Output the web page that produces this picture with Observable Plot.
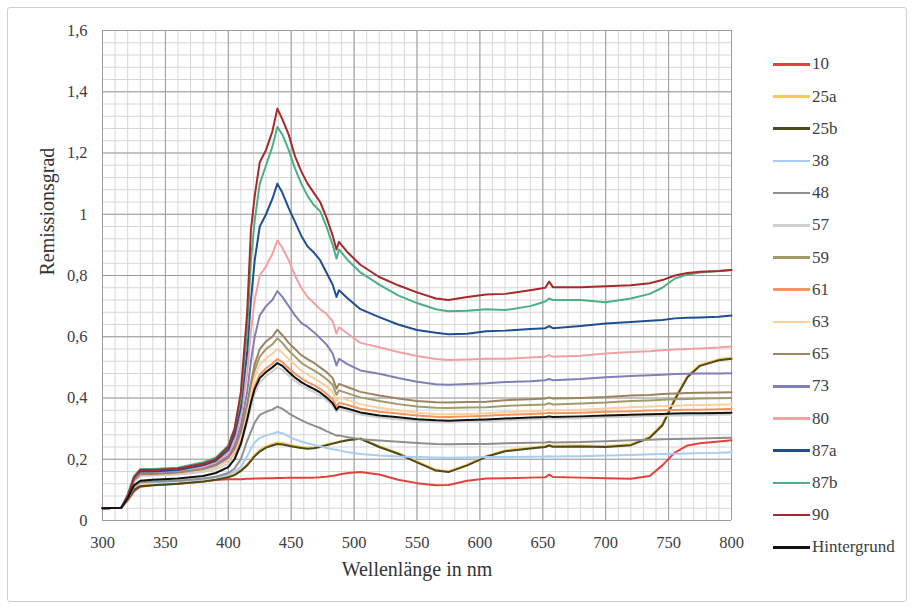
<!DOCTYPE html>
<html><head><meta charset="utf-8">
<script src="https://cdn.jsdelivr.net/npm/d3@7"></script>
<script src="https://cdn.jsdelivr.net/npm/@observablehq/plot@0.6"></script>
<style>
html,body{margin:0;padding:0;background:#fff;}
#wrap{position:relative;width:914px;height:608px;overflow:hidden;background:#fff;}
#frame{position:absolute;left:7px;top:7px;width:900px;height:595px;border:1px solid #cfcfcf;border-radius:3px;box-sizing:border-box;}
#chart{position:absolute;left:0;top:0;}
#legend{position:absolute;left:0;top:0;font-family:"Liberation Serif","Times New Roman",serif;font-size:17px;color:#404040;}
.item{position:absolute;left:773px;height:20px;display:flex;align-items:center;white-space:nowrap;}
.swatch{width:37px;height:2.5px;}
.lab{margin-left:2px;}
</style>
</head><body>
<div id="wrap"><div id="frame"></div><div id="chart"></div><div id="legend"></div></div>
<script>
const wavelengths = [300,315,320,325,330,340,360,380,390,400,405,410,415,418,421,425,430,435,439,443,448,453,458,463,468,473,478,483,486,488,495,505,520,535,550,565,575,590,605,620,640,652,655,658,680,700,720,735,745,755,765,775,790,800];

const s10 = [.04,.042,.065,.095,.11,.115,.12,.127,.132,.135,.135,.135,.136,.136,.137,.137,.138,.138,.139,.139,.14,.14,.14,.14,.14,.141,.143,.146,.148,.15,.155,.158,.15,.133,.122,.115,.116,.13,.137,.138,.14,.141,.15,.142,.14,.138,.136,.145,.18,.222,.245,.252,.258,.262];
const s25a = [.04,.042,.069,.102,.114,.117,.122,.129,.135,.144,.152,.166,.184,.2,.215,.23,.243,.25,.255,.253,.248,.244,.24,.237,.238,.242,.248,.253,.256,.258,.264,.269,.243,.221,.193,.166,.161,.183,.211,.229,.238,.243,.247,.244,.245,.243,.249,.274,.315,.4,.473,.509,.527,.532];
const s25b = [.04,.042,.068,.1,.112,.115,.12,.127,.133,.141,.148,.162,.18,.195,.21,.225,.238,.245,.25,.248,.244,.24,.237,.234,.236,.24,.246,.251,.254,.256,.262,.267,.24,.218,.19,.163,.158,.18,.208,.226,.235,.24,.245,.241,.242,.24,.246,.27,.31,.395,.468,.505,.523,.528];
const s38 = [.04,.042,.07,.11,.123,.125,.128,.135,.14,.15,.16,.175,.21,.235,.255,.27,.278,.283,.289,.285,.275,.265,.258,.252,.247,.242,.237,.233,.231,.229,.223,.217,.212,.209,.207,.206,.205,.206,.207,.207,.208,.209,.21,.209,.21,.212,.214,.216,.217,.218,.219,.22,.221,.223];
const s48 = [.04,.042,.07,.11,.125,.127,.13,.137,.143,.155,.17,.2,.26,.29,.32,.345,.355,.362,.372,.365,.35,.338,.328,.318,.31,.302,.292,.283,.277,.278,.272,.265,.261,.257,.253,.25,.249,.25,.25,.252,.254,.255,.257,.255,.256,.259,.262,.264,.265,.266,.267,.268,.269,.27];
const s57 = [.04,.042,.074,.125,.145,.147,.15,.158,.168,.185,.205,.25,.32,.37,.415,.45,.472,.487,.5,.492,.473,.456,.442,.43,.42,.408,.393,.375,.355,.364,.357,.346,.336,.33,.325,.321,.32,.322,.324,.327,.33,.332,.334,.332,.334,.337,.339,.341,.342,.343,.344,.344,.345,.346];
const s59 = [.04,.042,.076,.13,.15,.15,.155,.165,.177,.2,.228,.28,.365,.43,.49,.535,.56,.575,.595,.58,.555,.535,.515,.502,.49,.477,.462,.443,.41,.425,.415,.402,.39,.38,.372,.368,.367,.369,.37,.374,.377,.379,.383,.379,.382,.385,.39,.392,.394,.396,.397,.398,.399,.4];
const s61 = [.04,.042,.078,.135,.155,.155,.158,.166,.176,.196,.22,.265,.34,.395,.44,.476,.497,.512,.527,.517,.497,.479,.464,.452,.442,.43,.414,.395,.373,.384,.377,.365,.355,.349,.343,.339,.338,.34,.342,.345,.348,.35,.352,.35,.352,.355,.357,.359,.36,.361,.362,.362,.363,.364];
const s63 = [.04,.042,.076,.13,.15,.15,.155,.165,.176,.198,.225,.275,.355,.415,.47,.51,.53,.545,.56,.548,.527,.508,.49,.476,.465,.452,.438,.42,.39,.402,.393,.38,.368,.36,.352,.348,.347,.348,.35,.354,.357,.359,.363,.359,.362,.366,.37,.372,.374,.375,.376,.377,.378,.379];
const s65 = [.04,.042,.077,.132,.152,.152,.157,.168,.18,.205,.235,.29,.38,.45,.51,.56,.585,.6,.623,.605,.58,.56,.54,.527,.515,.5,.485,.465,.43,.446,.435,.42,.408,.398,.39,.386,.385,.387,.388,.393,.396,.398,.402,.398,.4,.403,.408,.41,.413,.415,.416,.417,.418,.419];
const s73 = [.04,.042,.078,.135,.155,.155,.16,.172,.185,.21,.245,.31,.42,.52,.6,.67,.7,.72,.749,.73,.7,.67,.645,.632,.615,.595,.575,.545,.506,.528,.51,.49,.479,.465,.453,.445,.443,.446,.448,.452,.455,.458,.462,.458,.462,.468,.472,.474,.476,.478,.479,.48,.48,.481];
const s80 = [.04,.042,.08,.14,.158,.158,.163,.175,.19,.22,.26,.34,.48,.62,.72,.8,.83,.87,.914,.89,.85,.8,.76,.73,.71,.69,.675,.65,.61,.631,.61,.58,.566,.55,.537,.527,.524,.526,.528,.528,.532,.535,.54,.535,.538,.545,.55,.553,.556,.558,.56,.562,.565,.568];
const s87a = [.04,.042,.08,.14,.16,.16,.165,.18,.195,.23,.28,.37,.55,.72,.85,.96,1.0,1.05,1.1,1.07,1.02,.975,.93,.895,.875,.85,.81,.77,.73,.752,.725,.69,.664,.64,.622,.613,.608,.61,.618,.62,.625,.628,.635,.628,.635,.643,.648,.652,.655,.66,.662,.663,.665,.669];
const s87b = [.04,.042,.085,.145,.168,.168,.172,.19,.205,.245,.3,.4,.62,.85,.98,1.1,1.16,1.22,1.285,1.26,1.21,1.15,1.1,1.06,1.03,1.01,.96,.9,.855,.885,.85,.81,.77,.735,.71,.69,.683,.685,.69,.687,.7,.715,.725,.72,.72,.713,.725,.74,.76,.79,.803,.81,.815,.818];
const s90 = [.04,.042,.08,.14,.165,.165,.17,.185,.2,.24,.3,.42,.68,.95,1.06,1.17,1.21,1.27,1.345,1.31,1.26,1.19,1.14,1.1,1.07,1.04,.99,.93,.885,.91,.875,.835,.795,.768,.745,.725,.72,.73,.738,.74,.752,.76,.78,.762,.762,.765,.768,.775,.785,.8,.808,.812,.815,.818];
const sHintergrund = [.04,.042,.072,.115,.13,.133,.137,.145,.155,.174,.2,.25,.33,.385,.43,.465,.485,.5,.514,.505,.485,.467,.452,.44,.43,.418,.402,.383,.362,.372,.365,.353,.343,.337,.331,.327,.326,.328,.33,.333,.336,.338,.34,.338,.34,.343,.345,.347,.348,.349,.35,.35,.351,.352];

const seriesNames = ["10","25a","25b","38","48","57","59","61","63","65","73","80","87a","87b","90","Hintergrund"];
const seriesValues = [s10,s25a,s25b,s38,s48,s57,s59,s61,s63,s65,s73,s80,s87a,s87b,s90,sHintergrund];
const seriesColors = ["#e4413a","#f7c95a","#4b4a1c","#a8cdf0","#8f8f8f","#cfcfcf","#a39a6a","#f5955a","#fbcf9f","#9c8460","#8080b8","#f2a0a0","#1f4f8f","#4caf86","#a52a2a","#111111"];

const xTicks = [300,350,400,450,500,550,600,650,700,750,800];
const yTicks = [0,0.2,0.4,0.6,0.8,1,1.2,1.4,1.6];

const rows = seriesNames.flatMap((name, i) => wavelengths.map((w, j) => ({series: name, nm: w, value: seriesValues[i][j]})));

const font = '"Liberation Serif","Times New Roman",serif';
const chart = Plot.plot({
  width: 914, height: 608,
  marginLeft: 102, marginRight: 183, marginTop: 30, marginBottom: 88,
  style: {fontFamily: font, fontSize: "16.5px", color: "#404040", background: "transparent", overflow: "visible"},
  x: {domain: [300, 800]},
  y: {domain: [0, 1.6]},
  color: {domain: seriesNames, range: seriesColors},
  marks: [
    Plot.ruleX(d3.range(0, 51).map(i => 300 + i * 10), {stroke: "#d6d6d6", strokeWidth: 1}),
    Plot.ruleY(d3.range(0, 41).map(i => i * 0.04), {stroke: "#d6d6d6", strokeWidth: 1}),
    Plot.ruleX(xTicks, {stroke: "#9c9c9c", strokeWidth: 1}),
    Plot.ruleY(yTicks, {stroke: "#9c9c9c", strokeWidth: 1}),
    Plot.line(rows, {x: "nm", y: "value", z: "series", stroke: "series", strokeWidth: 2, strokeLinejoin: "round"}),
    Plot.axisX({ticks: xTicks, tickSize: 0, tickPadding: 16, label: null, fontSize: 16.5}),
    Plot.axisY({ticks: yTicks, tickSize: 0, tickPadding: 15, label: null, fontSize: 16.5,
      tickFormat: d => String(+d.toFixed(1)).replace(".", ",")}),
    Plot.text(["Wellenlänge in nm"], {frameAnchor: "bottom", dy: 55, fontSize: 20, fill: "#333"}),
    Plot.text(["Remissionsgrad"], {frameAnchor: "left", dx: -55, rotate: -90, fontSize: 20, fill: "#333"})
  ]
});
document.getElementById("chart").appendChild(chart);

const legend = document.getElementById("legend");
seriesNames.forEach((name, i) => {
  const item = document.createElement("div");
  item.className = "item";
  item.style.top = (64.3 + 32.2 * i - 10) + "px";
  const sw = document.createElement("div");
  sw.className = "swatch";
  sw.style.background = seriesColors[i];
  const lab = document.createElement("span");
  lab.className = "lab";
  lab.textContent = name;
  item.appendChild(sw); item.appendChild(lab);
  legend.appendChild(item);
});
</script>
</body></html>
